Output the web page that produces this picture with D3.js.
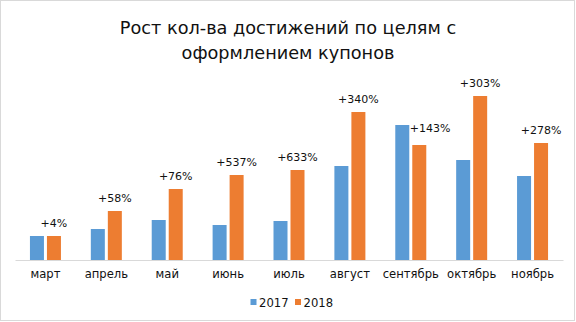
<!DOCTYPE html>
<html>
<head>
<meta charset="utf-8">
<script src="https://cdn.jsdelivr.net/npm/d3@7/dist/d3.min.js"></script>
<style>
  html, body { margin: 0; padding: 0; background: #fff; }
  svg { display: block; }
  text { font-family: "DejaVu Sans", sans-serif; fill: #111; }
</style>
</head>
<body>
<svg id="chart" width="576" height="322"></svg>
<script>
const titleLines = ["Рост кол-ва достижений по целям с", "оформлением купонов"];
const months = ["март", "апрель", "май", "июнь", "июль", "август", "сентябрь", "октябрь", "ноябрь"];
const seriesNames = ["2017", "2018"];
const values2017 = [24, 31, 40, 35, 39, 94, 135, 100, 84];
const values2018 = [24, 49, 71, 85, 90, 148, 115, 164, 117];
const growthLabels = ["+4%", "+58%", "+76%", "+537%", "+633%", "+340%", "+143%", "+303%", "+278%"];
const colors = ["#5B9BD5", "#ED7D31"];

const svg = d3.select("#chart");

// frame
svg.append("rect").attr("x", 0.5).attr("y", 0.5).attr("width", 574).attr("height", 320)
  .attr("fill", "#fff").attr("stroke", "#d9d9d9").attr("stroke-width", 1);

// title
svg.append("text").attr("text-anchor", "middle")
  .style("font-size", "17.7px")
  .selectAll("tspan").data(titleLines).join("tspan")
  .attr("x", 288).attr("y", (d, i) => 34 + i * 25).text(d => d);

const rows = months.map((m, i) => ({ month: m, v: [values2017[i], values2018[i]], label: growthLabels[i] }));

const x0 = d3.scaleBand().domain(months).range([15, 563]).padding(0);
const x1 = d3.scaleBand().domain(seriesNames).range([0, 31]).paddingInner(3 / 17);
const off = (x0.bandwidth() - 31) / 2;
const y = d3.scaleLinear().domain([0, 200]).range([260, 60]);

const g = svg.append("g");
const groups = g.selectAll("g.grp").data(rows).join("g")
  .attr("transform", d => `translate(${x0(d.month) + off},0)`);

groups.selectAll("rect").data(d => d.v.map((v, k) => ({ v, k }))).join("rect")
  .attr("x", d => x1(seriesNames[d.k]))
  .attr("width", x1.bandwidth())
  .attr("y", d => y(d.v))
  .attr("height", d => y(0) - y(d.v))
  .attr("fill", d => colors[d.k]);

// growth labels
groups.append("text")
  .style("font-size", "11px")
  .attr("text-anchor", d => d.v[0] > d.v[1] ? "start" : "middle")
  .attr("x", d => d.v[0] > d.v[1] ? x1("2017") + x1.bandwidth() + 0.5 : x1("2018") + x1.bandwidth() / 2)
  .attr("y", d => d.v[0] > d.v[1] ? y(d.v[0]) + 7 : y(d.v[1]) - 9)
  .text(d => d.label);

// x axis
const xAxis = d3.axisBottom(x0).tickSize(0).tickPadding(0);
const ax = svg.append("g").attr("transform", `translate(0,${y(0)})`).call(xAxis);
ax.select(".domain").attr("stroke", "#d9d9d9").attr("stroke-width", 1);
ax.selectAll(".tick text").attr("y", 17.5).attr("dy", null)
  .style("font-size", "11.6px").style("font-family", "'DejaVu Sans', sans-serif").attr("fill", "#111");

// legend
const legend = svg.append("g");
const legX = [250.5, 295];
seriesNames.forEach((s, i) => {
  legend.append("rect").attr("x", legX[i]).attr("y", 299).attr("width", 6).attr("height", 6).attr("fill", colors[i]);
  legend.append("text").attr("x", legX[i] + 8.5).attr("y", 307.3).style("font-size", "11.6px").text(s);
});
</script>
</body>
</html>
